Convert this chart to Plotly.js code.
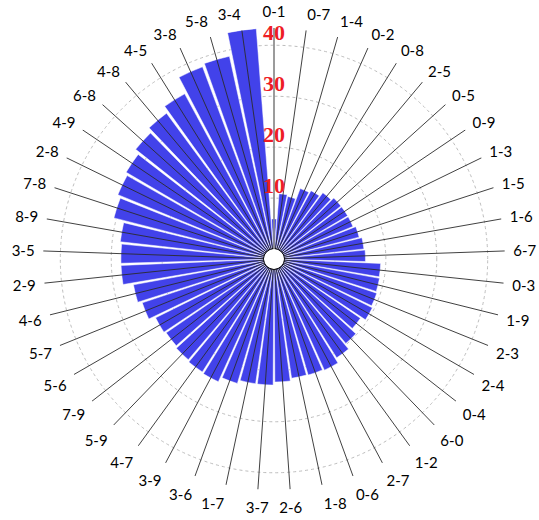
<!DOCTYPE html>
<html>
<head>
<meta charset="utf-8">
<script src="https://cdn.plot.ly/plotly-3.0.1.min.js"></script>
<style>
  html, body { margin: 0; padding: 0; background: #ffffff; }
  #chart { width: 539px; height: 520px; }
</style>
</head>
<body>
<div id="chart"></div>
<script>
// Category pairs, clockwise from the top
const categories = [
  '0-1','0-7','1-4','0-2','0-8','2-5','0-5','0-9','1-3','1-5','1-6','6-7',
  '0-3','1-9','2-3','2-4','0-4','6-0','1-2','2-7','0-6','1-8','2-6','3-7',
  '1-7','3-6','3-9','4-7','5-9','7-9','5-6','5-7','4-6','2-9','3-5','8-9',
  '7-8','2-8','4-9','6-8','4-8','4-5','3-8','5-8','3-4'
];
// Bar values
const values = [
  5.9, 10.9, 10.6, 12.8, 13.3, 14.2, 14.8, 14.8, 14.8, 15.3, 15.8, 16.0,
  19.0, 19.1, 19.3, 19.6, 18.6, 19.8, 21.0, 22.0, 21.8, 21.7, 22.2, 22.8,
  22.8, 23.5, 24.5, 24.3, 24.0, 23.7, 24.0, 25.3, 26.1, 28.1, 28.1, 28.4,
  30.5, 31.2, 31.7, 32.7, 33.6, 34.9, 38.3, 38.8, 43.4
];
// Radial ticks
const radialTicks = [10, 20, 30, 40];
const radialTickLabels = ['10', '20', '30', '40'];
const radialMax = 43.4;

// spoke lines through each category, from the centre ring to the edge
const spokeTheta = [];
const spokeR = [];
categories.forEach(c => { spokeTheta.push(c, c, c); spokeR.push(0, radialMax, null); });

// centre ring
const ringTheta = categories.concat([categories[0]]);
const ringR = ringTheta.map(() => 0);

const data = [
  {
    type: 'barpolar',
    theta: categories,
    r: values,
    marker: { color: '#4242EA', line: { color: '#ffffff', width: 0.5 } },
    hoverinfo: 'theta+r'
  },
  {
    type: 'scatterpolar',
    mode: 'lines',
    theta: spokeTheta,
    r: spokeR,
    line: { color: '#2b2b2b', width: 0.9 },
    connectgaps: false,
    hoverinfo: 'skip'
  },
  {
    type: 'scatterpolar',
    mode: 'lines',
    theta: ringTheta,
    r: ringR,
    line: { color: '#000000', width: 1.5, shape: 'spline' },
    hoverinfo: 'skip'
  },
  {
    type: 'scatterpolar',
    mode: 'text',
    theta: radialTicks.map(() => categories[0]),
    r: radialTicks,
    text: radialTickLabels,
    textposition: 'top center',
    textfont: { family: 'Liberation Serif', size: 22, color: '#ee1c25', weight: 'bold' },
    hoverinfo: 'skip'
  }
];

const layout = {
  width: 539,
  height: 520,
  margin: { l: 43, r: 34, t: 28, b: 30 },
  showlegend: false,
  paper_bgcolor: '#ffffff',
  polar: {
    bgcolor: '#ffffff',
    hole: 0.0433,
    radialaxis: {
      range: [0, radialMax],
      tickvals: radialTicks,
      showticklabels: false,
      ticks: '',
      showgrid: true,
      gridcolor: '#bdbdbd',
      griddash: 'dot',
      gridwidth: 1,
      showline: true,
      linecolor: '#9a9a9a',
      linewidth: 1.5,
      angle: 90
    },
    angularaxis: {
      type: 'category',
      categoryarray: categories,
      direction: 'clockwise',
      rotation: 90,
      showgrid: false,
      showline: false,
      ticks: 'outside',
      ticklen: 5,
      tickcolor: 'rgba(0,0,0,0)',
      tickfont: { family: 'Lato', size: 15, color: '#000000' }
    }
  }
};

Plotly.newPlot('chart', data, layout, { displayModeBar: false, staticPlot: true });
</script>
</body>
</html>
